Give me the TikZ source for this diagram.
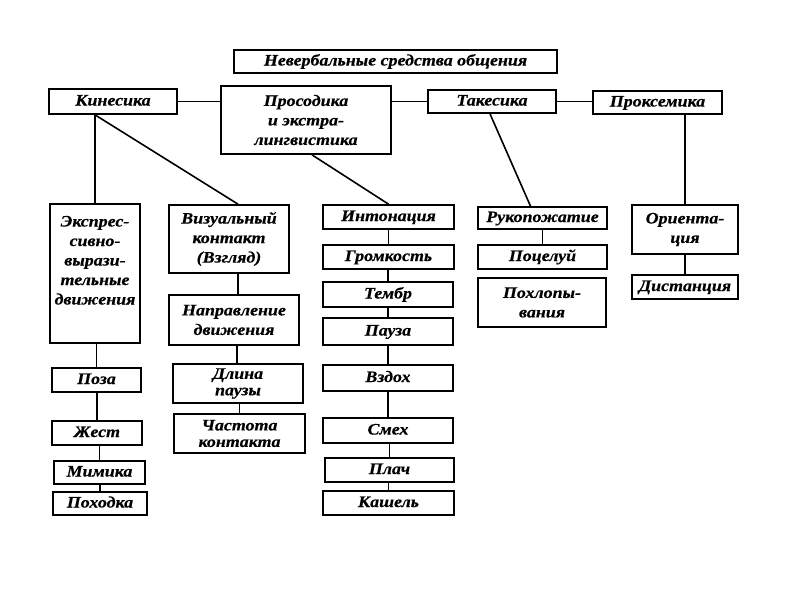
\documentclass[tikz,border=0pt]{standalone}
\usepackage{fontspec}
\setmainfont[FakeStretch=1.12,FakeBold=0.4]{Liberation Serif}
\tikzset{
  box/.style={draw, line width=1.7pt, inner sep=0pt, align=center, fill=white,
    font=\fontsize{16}{19.5}\selectfont\bfseries\itshape},
  one/.style={text height=11pt, text depth=3pt},
  tight/.style={font=\fontsize{16}{16.5}\selectfont\bfseries\itshape},
  conn/.style={line width=1.6pt}
}
\newcommand\bx[7][]{\node[box, #1, minimum width={#5-#3}, minimum height={#6-#4}] (#2) at ({(#3+#5)/2},{(#4+#6)/2}) {#7};}
\newcommand\vl[2]{\draw[conn] (#2.north) -- (#2.north |- #1.south);}
\begin{document}
\begin{tikzpicture}[x=1pt,y=-1pt]
\useasboundingbox[fill=white] (0,0) rectangle (800,600);
\bx[one]{title}{234}{50}{557}{73}{Невербальные средства общения}
\bx[one]{kin}{49}{89}{177}{114}{Кинесика}
\bx{pros}{221}{86}{391}{154}{Просодика\\и экстра-\\лингвистика}
\bx[one]{tak}{428}{90}{556}{113}{Такесика}
\bx[one]{prox}{593}{91}{722}{114}{Проксемика}
\bx{expr}{50}{204}{140}{343}{\parbox[c][136pt][t]{88pt}{\centering\rule{0pt}{21pt}Экспрес-\\сивно-\\вырази-\\тельные\\движения}}
\bx{vis}{169}{205}{289}{273}{Визуальный\\контакт\\(Взгляд)}
\bx{napr}{169}{295}{299}{345}{Направление\\движения}
\bx[tight]{dlina}{173}{364}{303}{403}{Длина\\паузы}
\bx[tight]{chast}{174}{414}{305}{453}{Частота\\контакта}
\bx[one]{poza}{52}{368}{141}{392}{Поза}
\bx[one]{zhest}{52}{421}{142}{445}{Жест}
\bx[one]{mimika}{54}{461}{145}{484}{Мимика}
\bx[one]{pohodka}{53}{492}{147}{515}{Походка}
\bx[one]{inton}{323}{205}{454}{229}{Интонация}
\bx[one]{grom}{323}{245}{454}{269}{Громкость}
\bx[one]{tembr}{323}{282}{453}{307}{Тембр}
\bx[one]{pauza}{323}{318}{453}{345}{Пауза}
\bx[one]{vzdoh}{323}{365}{453}{391}{Вздох}
\bx[one]{smeh}{323}{418}{453}{443}{Смех}
\bx[one]{plach}{325}{458}{454}{482}{Плач}
\bx[one]{kashel}{323}{491}{454}{515}{Кашель}
\bx[one]{ruk}{478}{207}{607}{229}{Рукопожатие}
\bx[one]{poc}{478}{245}{607}{269}{Поцелуй}
\bx{pohl}{478}{278}{606}{327}{Похлопы-\\вания}
\bx{orient}{632}{205}{738}{254}{Ориента-\\ция}
\bx[one]{dist}{632}{275}{738}{299}{Дистанция}
% horizontal connectors
\draw[conn] (kin.east) -- (kin.east -| pros.west);
\draw[conn] (tak.west -| pros.east) -- (tak.west);
\draw[conn] (tak.east) -- (tak.east -| prox.west);
% from top level
\draw[conn] (expr.north) -- (expr.north |- kin.south);
\draw[conn] (expr.north |- kin.south) -- ([xshift=9pt]vis.north);
\draw[conn] ([xshift=6pt]pros.south) -- (inton.north);
\draw[conn] ([xshift=-2pt]tak.south) -- ([xshift=-12pt]ruk.north);
\draw[conn] (orient.north) -- (orient.north |- prox.south);
% columns
\vl{expr}{poza}
\vl{poza}{zhest}
\vl{zhest}{mimika}
\vl{mimika}{pohodka}
\draw[conn] ([xshift=4pt]napr.north) -- ([xshift=4pt]napr.north |- vis.south);
\draw[conn] ([xshift=-1pt]dlina.north) -- ([xshift=-1pt]dlina.north |- napr.south);
\vl{dlina}{chast}
\vl{inton}{grom}
\vl{grom}{tembr}
\vl{tembr}{pauza}
\vl{pauza}{vzdoh}
\vl{vzdoh}{smeh}
\vl{smeh}{plach}
\vl{plach}{kashel}
\vl{ruk}{poc}
\vl{orient}{dist}
\end{tikzpicture}
\end{document}
